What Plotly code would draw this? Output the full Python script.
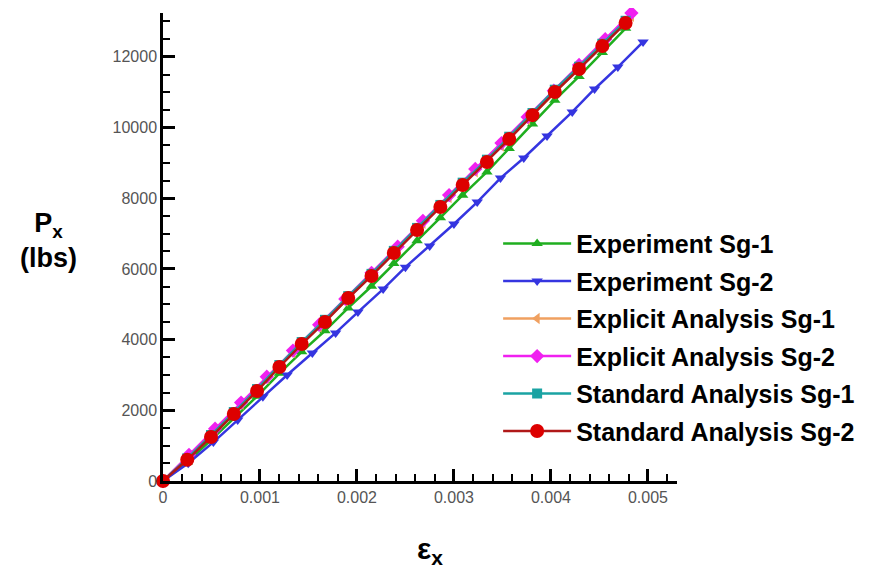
import plotly.graph_objects as go

# ---------------- data ----------------
names = ["Experiment Sg-1", "Experiment Sg-2", "Explicit Analysis Sg-1",
         "Explicit Analysis Sg-2", "Standard Analysis Sg-1", "Standard Analysis Sg-2"]

std_x = [0, 0.00025, 0.000495, 0.00073, 0.00097, 0.0012, 0.00143, 0.00167, 0.00191,
         0.00215, 0.00238, 0.00262, 0.00286, 0.00309, 0.00334, 0.00357, 0.00381,
         0.00404, 0.00429, 0.00453, 0.00477]
std2_y = [0, 600, 1245, 1895, 2546, 3225, 3875, 4500, 5177, 5800, 6450, 7100, 7751,
          8375, 9024, 9675, 10350, 11004, 11655, 12306, 12956]
std1_y = [0, 640, 1300, 1950, 2600, 3280, 3930, 4560, 5230, 5860, 6510, 7160, 7810,
          8440, 9090, 9740, 10410, 11070, 11720, 12370, 13020]

exp1_x = std_x
exp1_y = [0, 540, 1155, 1775, 2396, 3045, 3655, 4250, 4897, 5510, 6150, 6800, 7451,
          8085, 8744, 9405, 10100, 10774, 11445, 12126, 12806]

exp2_x = [0, 0.00026, 0.00052, 0.00077, 0.00103, 0.00128, 0.00154, 0.00178, 0.00201,
          0.00227, 0.0025, 0.00275, 0.003, 0.00324, 0.00348, 0.00372, 0.00396,
          0.00422, 0.00445, 0.00469, 0.00495]
exp2_y = [0, 500, 1100, 1725, 2380, 3000, 3620, 4190, 4780, 5430, 6050, 6650, 7270,
          7890, 8570, 9137, 9760, 10440, 11090, 11710, 12420]

expl_x = [0, 0.000268, 0.000537, 0.000805, 0.00107, 0.00134, 0.00161, 0.00188, 0.00215,
          0.00242, 0.00268, 0.00295, 0.00322, 0.00349, 0.00376, 0.00403, 0.00429,
          0.00456, 0.00483]
expl2_y = [0, 740, 1480, 2220, 2950, 3690, 4420, 5150, 5890, 6630, 7360, 8090, 8830,
           9560, 10300, 11040, 11770, 12500, 13240]
expl1_y = [0, 710, 1440, 2170, 2900, 3630, 4360, 5090, 5820, 6560, 7290, 8020, 8750,
           9480, 10220, 10950, 11690, 12420, 13150]

x_tickvals = [0, 0.001, 0.002, 0.003, 0.004, 0.005]
x_ticktext = ["0", "0.001", "0.002", "0.003", "0.004", "0.005"]
y_tickvals = [0, 2000, 4000, 6000, 8000, 10000, 12000]
y_ticktext = ["0", "2000", "4000", "6000", "8000", "10000", "12000"]

# ---------------- styles ----------------
series = [
    (exp1_x, exp1_y, "#1fae1f", "#1fae1f", "triangle-up", 10),
    (exp2_x, exp2_y, "#3535e0", "#3535e0", "triangle-down", 10),
    (expl_x, expl1_y, "#f0a060", "#f0a060", "triangle-left", 10),
    (expl_x, expl2_y, "#f020f0", "#f020f0", "diamond", 11),
    (std_x, std1_y, "#1aa3a3", "#1aa3a3", "square", 10),
    (std_x, std2_y, "#b01818", "#dd0000", "circle", 14),
]

fig = go.Figure()
for i, (xs, ys, lc, mc, sym, ms) in enumerate(series):
    fig.add_trace(go.Scatter(
        x=xs, y=ys, name=names[i], mode="lines+markers",
        line=dict(color=lc, width=2.5),
        marker=dict(color=mc, symbol=sym, size=ms, line=dict(width=0)),
        cliponaxis=False, legendgroup=str(i),
    ))

axis_common = dict(
    showline=True, linecolor="black", linewidth=2.5, mirror=False,
    showgrid=False, zeroline=False,
    ticks="inside", ticklen=12, tickwidth=2.5, tickcolor="black",
    tickfont=dict(family="Liberation Sans", size=16, color="#555555"),
)

# page body adds an 8 px offset; figure sized to fit inside the 875x571 window
L, T, PW, PH = 155, 5, 514, 468

fig.update_layout(
    width=867, height=563,
    margin=dict(l=L, r=867 - L - PW, t=T, b=563 - T - PH, autoexpand=False),
    paper_bgcolor="white", plot_bgcolor="white",
    xaxis=dict(range=[0, 0.0053], tickvals=x_tickvals, ticktext=x_ticktext,
               minor=dict(dtick=0.0002, ticks="inside", ticklen=7, tickwidth=1.5,
                          tickcolor="black", showgrid=False),
               **axis_common),
    yaxis=dict(range=[0, 13240], tickvals=y_tickvals, ticktext=y_ticktext,
               minor=dict(dtick=500, ticks="inside", ticklen=7, tickwidth=1.5,
                          tickcolor="black", showgrid=False),
               **axis_common),
    legend=dict(x=0.652, y=0.556, xanchor="left", yanchor="top",
                bgcolor="rgba(0,0,0,0)", tracegroupgap=2, itemwidth=68,
                font=dict(family="Liberation Sans", size=25, color="black", weight="bold")),
    showlegend=True,
    annotations=[
        dict(text="<b>P<sub>x</sub></b><br><b>(lbs)</b>", xref="paper", yref="paper",
             x=(48 - 163) / PW, y=(481 - 240) / PH, xanchor="center", yanchor="middle",
             showarrow=False, font=dict(family="Liberation Sans", size=27, color="black")),
        dict(text="<b>ε<sub>x</sub></b>", xref="paper", yref="paper",
             x=(430 - 163) / PW, y=-(550 - 481) / PH, xanchor="center", yanchor="middle",
             showarrow=False, font=dict(family="Liberation Sans", size=30, color="black")),
    ],
)

fig.write_html("out.html")
